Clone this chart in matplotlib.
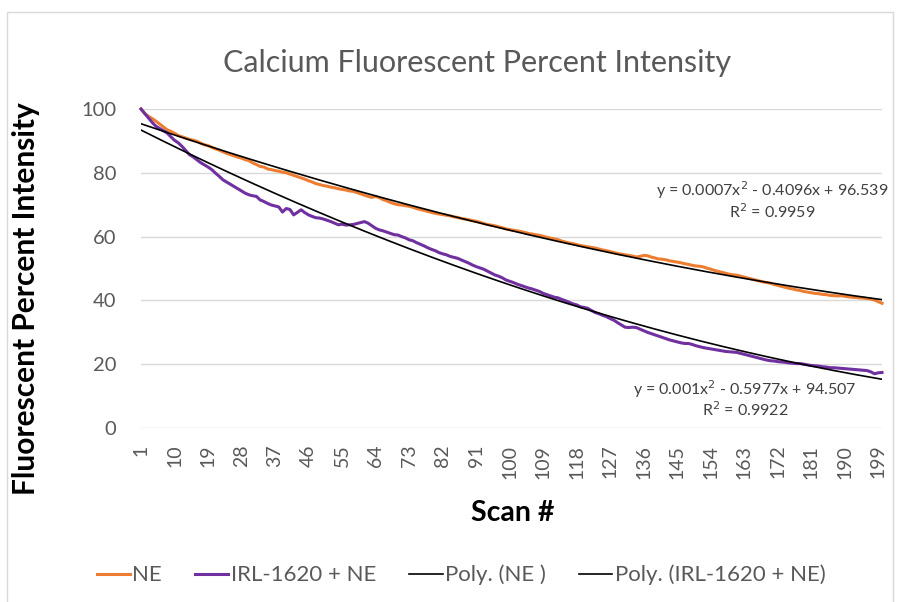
import numpy as np
import matplotlib
matplotlib.use("Agg")
import matplotlib.pyplot as plt
from matplotlib.patches import Rectangle
from matplotlib.lines import Line2D

plt.rcParams['font.family'] = ['Lato', 'DejaVu Sans']

title = "Calcium Fluorescent Percent Intensity"
x_label = "Scan #"
y_label = "Fluorescent Percent Intensity"
series_names = ["NE", "IRL-1620 + NE", "Poly. (NE )", "Poly. (IRL-1620 + NE)"]
eq_ne = ["y = 0.0007x$^2$ - 0.4096x + 96.539", "R$^2$ = 0.9959"]
eq_irl = ["y = 0.001x$^2$ - 0.5977x + 94.507", "R$^2$ = 0.9922"]

scans = list(range(1, 201))
tick_scans = list(range(1, 201, 9))
y_ticks = [0, 20, 40, 60, 80, 100]

ne = [
    100.0, 98.6, 97.7, 97.0, 96.2, 95.3, 94.4, 93.5, 93.0, 92.4,
    91.7, 91.3, 90.9, 90.5, 90.2, 89.9, 89.3, 88.8, 88.5, 88.0,
    87.5, 87.1, 86.6, 86.1, 85.7, 85.3, 84.9, 84.6, 84.1, 83.8,
    83.1, 82.6, 82.0, 81.8, 81.2, 81.0, 80.7, 80.5, 80.2, 80.0,
    79.6, 79.2, 78.8, 78.4, 78.0, 77.5, 77.1, 76.6, 76.3, 76.0,
    75.8, 75.5, 75.3, 75.0, 74.8, 74.6, 74.3, 74.2, 73.8, 73.4,
    73.0, 72.6, 72.3, 72.6, 72.2, 71.6, 71.2, 70.7, 70.3, 70.0,
    69.9, 69.7, 69.5, 69.2, 68.8, 68.5, 68.2, 67.9, 67.6, 67.3,
    67.1, 66.9, 66.7, 66.5, 66.2, 66.0, 65.7, 65.5, 65.3, 65.0,
    64.8, 64.5, 64.1, 63.8, 63.6, 63.4, 63.1, 62.8, 62.4, 62.2,
    62.0, 61.8, 61.6, 61.3, 61.0, 60.8, 60.6, 60.4, 60.1, 59.8,
    59.5, 59.3, 59.0, 58.6, 58.3, 58.0, 57.8, 57.5, 57.2, 57.0,
    56.8, 56.6, 56.4, 56.1, 55.8, 55.6, 55.3, 55.0, 54.7, 54.5,
    54.3, 54.1, 53.9, 53.6, 53.8, 54.1, 54.0, 53.6, 53.3, 53.0,
    52.9, 52.7, 52.4, 52.2, 52.0, 51.8, 51.5, 51.3, 51.0, 50.8,
    50.7, 50.5, 50.1, 49.8, 49.4, 49.1, 48.8, 48.5, 48.2, 48.0,
    47.9, 47.6, 47.3, 47.0, 46.7, 46.4, 46.1, 45.8, 45.6, 45.4,
    45.0, 44.7, 44.4, 44.1, 43.8, 43.6, 43.3, 43.1, 42.8, 42.6,
    42.4, 42.2, 42.1, 41.9, 41.8, 41.6, 41.5, 41.4, 41.5, 41.3,
    41.1, 41.0, 40.9, 40.8, 40.7, 40.6, 40.4, 40.1, 39.6, 39.1,
]

irl = [
    100.0, 98.6, 97.2, 95.8, 94.6, 93.9, 93.2, 92.5, 91.3, 90.2,
    89.4, 88.3, 87.0, 85.7, 85.0, 84.1, 83.2, 82.5, 81.8, 81.0,
    79.9, 78.9, 77.8, 77.1, 76.4, 75.7, 75.0, 74.3, 73.6, 73.1,
    72.8, 72.6, 71.5, 71.0, 70.4, 69.9, 69.6, 69.3, 67.7, 68.8,
    68.5, 66.8, 67.6, 68.4, 67.5, 66.8, 66.3, 65.9, 65.8, 65.5,
    65.1, 64.7, 64.2, 63.7, 63.9, 63.6, 63.7, 63.8, 64.1, 64.4,
    64.7, 64.2, 63.4, 62.6, 62.1, 61.8, 61.4, 61.0, 60.6, 60.5,
    60.0, 59.6, 59.0, 58.7, 58.1, 57.6, 57.1, 56.5, 56.0, 55.6,
    55.0, 54.6, 54.3, 53.8, 53.5, 53.2, 52.7, 52.2, 51.7, 51.1,
    50.6, 50.2, 49.8, 49.2, 48.6, 48.0, 47.6, 47.1, 46.4, 46.0,
    45.6, 45.1, 44.7, 44.3, 43.9, 43.6, 43.2, 42.8, 42.2, 41.8,
    41.4, 41.0, 40.8, 40.3, 39.9, 39.4, 38.9, 38.6, 38.0, 37.8,
    37.5, 36.8, 36.2, 35.8, 35.3, 34.9, 34.3, 33.8, 33.0, 32.3,
    31.6, 31.5, 31.6, 31.5, 31.0, 30.5, 30.0, 29.6, 29.2, 28.8,
    28.4, 28.0, 27.6, 27.3, 27.0, 26.7, 26.5, 26.5, 26.2, 25.8,
    25.5, 25.2, 25.0, 24.8, 24.6, 24.4, 24.2, 24.0, 23.9, 23.8,
    23.7, 23.4, 23.1, 22.8, 22.5, 22.2, 21.9, 21.6, 21.3, 21.1,
    21.0, 20.8, 20.7, 20.6, 20.4, 20.3, 20.2, 20.2, 20.0, 19.8,
    19.6, 19.5, 19.4, 19.2, 19.1, 18.9, 18.9, 18.8, 18.7, 18.6,
    18.5, 18.4, 18.3, 18.2, 18.1, 18.0, 17.6, 17.0, 17.3, 17.4,
]

W, H = 897, 602
fig = plt.figure(figsize=(W / 100, H / 100), dpi=100)
fig.patch.set_facecolor("white")

# chart border
fig.patches.append(Rectangle((7 / W, -0.01), (893 - 7) / W, 1 - 12 / H + 0.01,
                             transform=fig.transFigure, fill=False,
                             edgecolor="#D9D9D9", linewidth=1.0))

left, right, top, bottom = 141, 882, 109, 428
ax = fig.add_axes([left / W, 1 - bottom / H, (right - left) / W, (bottom - top) / H])

x = np.array(scans, dtype=float)
ax.plot(x, ne, color="#ED7D31", linewidth=2.2, solid_joinstyle="round", zorder=3, clip_on=False)
ax.plot(x, irl, color="#7030A0", linewidth=2.2, solid_joinstyle="round", zorder=3, clip_on=False)

c_ne = np.polyfit(x, np.array(ne), 2)
c_irl = np.polyfit(x, np.array(irl), 2)
ax.plot(x, np.polyval(c_ne, x), color="black", linewidth=1.2, zorder=4)
ax.plot(x, np.polyval(c_irl, x), color="black", linewidth=1.2, zorder=4)

ax.set_xlim(1, 200)
ax.set_ylim(0, 100)
ax.set_yticks(y_ticks)
ax.set_yticklabels([str(v) for v in y_ticks], fontsize=14.5, color="#595959")
ax.set_xticks(tick_scans)
ax.set_xticklabels([str(v) for v in tick_scans], rotation=90, fontsize=14, color="#595959")
ax.tick_params(axis="y", length=0, pad=18)
ax.tick_params(axis="x", length=0, pad=12)
ax.grid(axis="y", color="#D9D9D9", linewidth=1.0)
ax.set_axisbelow(True)
for s in ax.spines.values():
    s.set_visible(False)

fig.text(477 / W, 1 - 63 / H, title, ha="center", va="center", fontsize=22, color="#595959")
fig.text(26 / W, 1 - 299 / H, y_label, ha="center", va="center", rotation=90,
         fontsize=21.5, fontweight="bold", color="black")
fig.text(513 / W, 1 - 513 / H, x_label, ha="center", va="center",
         fontsize=20.5, fontweight="bold", color="black")

fs_eq = 11.5
fig.text(772 / W, 1 - 190 / H, eq_ne[0], ha="center", va="center", fontsize=fs_eq, color="#404040")
fig.text(772 / W, 1 - 212 / H, eq_ne[1], ha="center", va="center", fontsize=fs_eq, color="#404040")
fig.text(745 / W, 1 - 389 / H, eq_irl[0], ha="center", va="center", fontsize=fs_eq, color="#404040")
fig.text(745 / W, 1 - 410 / H, eq_irl[1], ha="center", va="center", fontsize=fs_eq, color="#404040")

handles = [
    Line2D([], [], color="#ED7D31", linewidth=2.2),
    Line2D([], [], color="#7030A0", linewidth=2.2),
    Line2D([], [], color="black", linewidth=1.2),
    Line2D([], [], color="black", linewidth=1.2),
]
leg = fig.legend(handles, series_names, loc="center", bbox_to_anchor=(461 / W, 1 - 575 / H),
                 ncol=4, frameon=False, fontsize=16, handlelength=1.5, handletextpad=0.1,
                 columnspacing=1.5)
for t in leg.get_texts():
    t.set_color("#595959")

fig.savefig("out.png", dpi=100, facecolor="white")
